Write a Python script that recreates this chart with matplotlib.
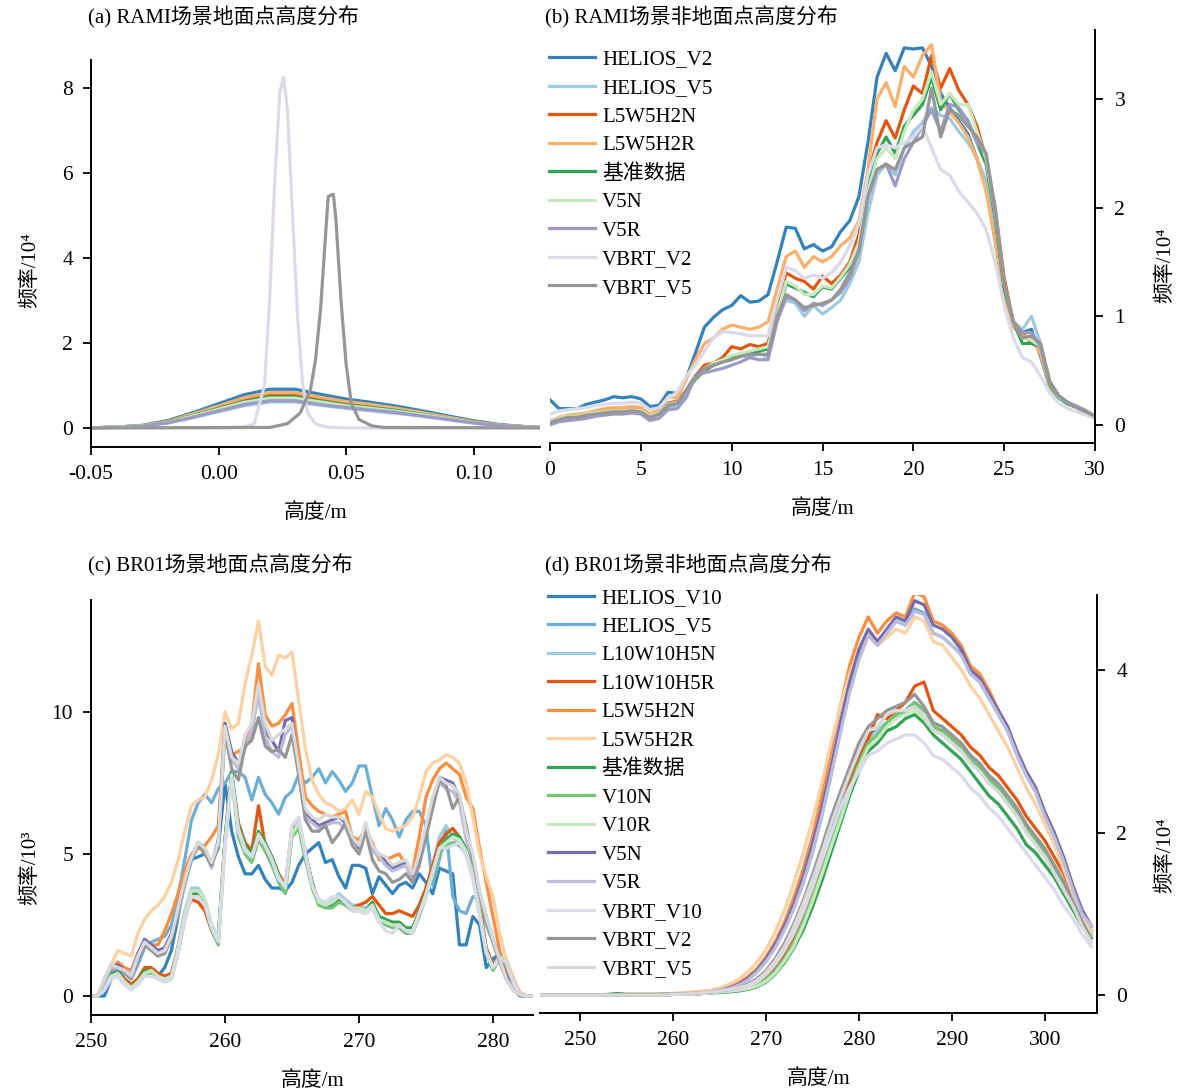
import numpy as np
import matplotlib
matplotlib.use("Agg")
import matplotlib.pyplot as plt

plt.rcParams['font.family'] = ['Liberation Serif', 'Noto Sans CJK SC']
plt.rcParams['font.size'] = 15
plt.rcParams['axes.unicode_minus'] = False

# ---------------- (a) RAMI ground points ----------------
x_a = [-0.05, -0.04, -0.03, -0.02, -0.01, 0.0, 0.01, 0.02, 0.03, 0.04, 0.05, 0.06, 0.07, 0.08, 0.09, 0.10, 0.11, 0.12, 0.126]
a_helios_v2 = [0.0, 0.02, 0.06, 0.17, 0.36, 0.57, 0.78, 0.91, 0.91, 0.79, 0.68, 0.60, 0.51, 0.40, 0.28, 0.17, 0.08, 0.03, 0.01]
a_helios_v5 = [0.0, 0.01, 0.04, 0.11, 0.24, 0.38, 0.52, 0.61, 0.61, 0.53, 0.46, 0.40, 0.34, 0.27, 0.19, 0.11, 0.05, 0.02, 0.01]
a_l5w5h2n = [0.0, 0.02, 0.05, 0.15, 0.31, 0.49, 0.67, 0.78, 0.78, 0.68, 0.58, 0.52, 0.44, 0.34, 0.24, 0.15, 0.07, 0.03, 0.01]
a_l5w5h2r = [0.0, 0.02, 0.05, 0.15, 0.33, 0.52, 0.71, 0.83, 0.83, 0.72, 0.62, 0.55, 0.46, 0.36, 0.25, 0.15, 0.07, 0.03, 0.01]
a_ref = [0.0, 0.02, 0.05, 0.14, 0.29, 0.46, 0.62, 0.73, 0.73, 0.63, 0.54, 0.48, 0.41, 0.32, 0.22, 0.14, 0.06, 0.02, 0.01]
a_v5n = [0.0, 0.02, 0.05, 0.13, 0.28, 0.44, 0.60, 0.70, 0.70, 0.61, 0.52, 0.46, 0.39, 0.31, 0.22, 0.13, 0.06, 0.02, 0.01]
a_v5r = [0.0, 0.01, 0.04, 0.12, 0.25, 0.40, 0.55, 0.64, 0.64, 0.55, 0.48, 0.42, 0.36, 0.28, 0.20, 0.12, 0.06, 0.02, 0.01]
x_a_vbrt_v2 = [-0.05, 0.0, 0.01, 0.014, 0.018, 0.020, 0.022, 0.024, 0.0255, 0.027, 0.029, 0.031, 0.033, 0.035, 0.038, 0.042, 0.05, 0.126]
a_vbrt_v2 = [0, 0, 0.02, 0.1, 1.0, 3.0, 5.8, 7.9, 8.25, 7.5, 5.0, 2.6, 1.0, 0.35, 0.1, 0.02, 0, 0]
x_a_vbrt_v5 = [-0.05, 0.02, 0.027, 0.032, 0.036, 0.038, 0.040, 0.042, 0.043, 0.045, 0.046, 0.048, 0.050, 0.052, 0.055, 0.06, 0.065, 0.126]
a_vbrt_v5 = [0, 0.01, 0.1, 0.35, 0.9, 1.6, 2.8, 4.6, 5.45, 5.5, 4.9, 3.0, 1.5, 0.6, 0.2, 0.05, 0.01, 0]

# ---------------- (b) RAMI non-ground points ----------------
x_b = np.arange(0, 30.01, 0.5)
b_helios_v2 = [0.23, 0.15, 0.15, 0.15, 0.19, 0.21, 0.23, 0.26, 0.25, 0.26,
               0.24, 0.17, 0.18, 0.30, 0.29, 0.43, 0.66, 0.90, 0.99, 1.06,
               1.10, 1.19, 1.13, 1.14, 1.20, 1.50, 1.82, 1.81, 1.62, 1.66,
               1.60, 1.64, 1.78, 1.88, 2.10, 2.60, 3.20, 3.42, 3.26, 3.47,
               3.46, 3.47, 3.30, 3.05, 2.92, 2.80, 2.68, 2.45, 2.20, 1.70,
               1.20, 0.95, 0.85, 0.88, 0.63, 0.35, 0.25, 0.20, 0.17, 0.13, 0.08]
b_helios_v5 = [0.04, 0.06, 0.07, 0.07, 0.08, 0.10, 0.11, 0.12, 0.12, 0.13,
               0.12, 0.06, 0.09, 0.16, 0.18, 0.28, 0.45, 0.50, 0.55, 0.58,
               0.60, 0.64, 0.62, 0.66, 0.62, 1.00, 1.15, 1.12, 1.00, 1.10,
               1.02, 1.08, 1.15, 1.30, 1.50, 1.95, 2.30, 2.40, 2.30, 2.55,
               2.70, 2.78, 2.92, 2.85, 2.82, 2.70, 2.60, 2.45, 2.25, 1.80,
               1.25, 0.95, 0.88, 1.00, 0.75, 0.40, 0.26, 0.20, 0.16, 0.13, 0.08]
b_l5w5h2n = [0.03, 0.06, 0.08, 0.08, 0.10, 0.12, 0.13, 0.14, 0.14, 0.15,
             0.14, 0.08, 0.11, 0.20, 0.22, 0.32, 0.45, 0.55, 0.57, 0.62,
             0.72, 0.70, 0.74, 0.72, 0.75, 1.10, 1.40, 1.35, 1.32, 1.25,
             1.37, 1.30, 1.38, 1.50, 1.75, 2.30, 2.60, 2.80, 2.64, 2.90,
             3.12, 3.05, 3.40, 3.10, 3.28, 3.08, 2.95, 2.75, 2.45, 2.00,
             1.35, 0.95, 0.85, 0.75, 0.72, 0.40, 0.26, 0.20, 0.16, 0.12, 0.08]
b_l5w5h2r = [0.03, 0.07, 0.09, 0.10, 0.11, 0.13, 0.15, 0.16, 0.16, 0.17,
             0.16, 0.10, 0.15, 0.26, 0.25, 0.42, 0.60, 0.75, 0.80, 0.88,
             0.92, 0.90, 0.88, 0.90, 0.95, 1.25, 1.55, 1.60, 1.45, 1.55,
             1.50, 1.55, 1.65, 1.72, 1.88, 2.35, 3.00, 3.15, 2.93, 3.30,
             3.20, 3.40, 3.50, 2.98, 2.88, 2.78, 2.65, 2.45, 2.15, 1.70,
             1.20, 0.90, 0.82, 0.80, 0.65, 0.36, 0.25, 0.20, 0.16, 0.12, 0.08]
b_ref = [0.02, 0.05, 0.07, 0.07, 0.09, 0.10, 0.11, 0.12, 0.12, 0.13,
         0.12, 0.07, 0.10, 0.18, 0.20, 0.30, 0.42, 0.50, 0.55, 0.58,
         0.62, 0.64, 0.66, 0.68, 0.70, 1.00, 1.30, 1.26, 1.22, 1.18,
         1.27, 1.25, 1.35, 1.45, 1.65, 2.20, 2.50, 2.65, 2.50, 2.75,
         2.85, 2.95, 3.20, 2.90, 3.05, 2.90, 2.80, 2.60, 2.40, 1.90,
         1.25, 0.95, 0.75, 0.75, 0.72, 0.38, 0.25, 0.19, 0.16, 0.12, 0.08]
b_v5n = [0.03, 0.06, 0.08, 0.08, 0.10, 0.11, 0.12, 0.13, 0.13, 0.14,
         0.13, 0.08, 0.11, 0.19, 0.21, 0.31, 0.44, 0.52, 0.57, 0.60,
         0.64, 0.66, 0.68, 0.70, 0.72, 1.02, 1.32, 1.28, 1.20, 1.20,
         1.28, 1.26, 1.36, 1.48, 1.68, 2.15, 2.45, 2.55, 2.45, 2.70,
         2.90, 3.00, 3.25, 2.95, 3.05, 2.95, 2.95, 2.70, 2.45, 1.95,
         1.30, 0.95, 0.80, 0.78, 0.72, 0.40, 0.26, 0.20, 0.16, 0.12, 0.08]
b_v5r = [0.00, 0.03, 0.04, 0.05, 0.06, 0.08, 0.09, 0.10, 0.10, 0.11,
         0.10, 0.04, 0.06, 0.14, 0.15, 0.25, 0.45, 0.48, 0.50, 0.52,
         0.55, 0.58, 0.62, 0.60, 0.60, 0.95, 1.18, 1.15, 1.05, 1.12,
         1.10, 1.15, 1.22, 1.35, 1.60, 2.10, 2.35, 2.40, 2.20, 2.45,
         2.60, 2.75, 2.90, 2.70, 2.95, 2.92, 2.80, 2.60, 2.50, 2.00,
         1.30, 0.95, 0.85, 0.85, 0.72, 0.40, 0.27, 0.21, 0.17, 0.13, 0.08]
b_vbrt_v2 = [0.10, 0.13, 0.14, 0.15, 0.16, 0.18, 0.19, 0.20, 0.20, 0.21,
             0.20, 0.14, 0.16, 0.25, 0.30, 0.45, 0.55, 0.68, 0.80, 0.86,
             0.85, 0.84, 0.82, 0.82, 0.82, 1.15, 1.45, 1.42, 1.35, 1.38,
             1.35, 1.40, 1.50, 1.65, 1.85, 2.30, 2.55, 2.58, 2.55, 2.60,
             2.65, 2.75, 2.55, 2.35, 2.30, 2.15, 2.05, 1.95, 1.80, 1.50,
             1.10, 0.80, 0.62, 0.58, 0.45, 0.30, 0.20, 0.15, 0.12, 0.09, 0.06]
b_vbrt_v5 = [0.02, 0.05, 0.07, 0.07, 0.09, 0.10, 0.11, 0.12, 0.12, 0.13,
             0.12, 0.07, 0.10, 0.18, 0.20, 0.32, 0.45, 0.52, 0.55, 0.58,
             0.60, 0.63, 0.65, 0.65, 0.65, 1.00, 1.20, 1.15, 1.08, 1.10,
             1.12, 1.15, 1.25, 1.40, 1.60, 2.10, 2.35, 2.40, 2.35, 2.55,
             2.60, 2.65, 3.10, 2.65, 2.90, 2.85, 2.75, 2.65, 2.50, 1.95,
             1.30, 0.95, 0.80, 0.82, 0.75, 0.40, 0.27, 0.20, 0.16, 0.12, 0.08]

# ---------------- (c) BR01 ground points ----------------
x_c = np.arange(250, 283.01, 0.5)
c_helios_v10 = [0, 0, 0, 0.6, 0.9, 0.6, 0.4, 0.6, 0.8, 0.7,
                0.7, 1.0, 1.6, 2.8, 4.0, 4.8, 4.9, 5.0, 4.7, 5.2,
                7.5, 5.8, 4.9, 4.3, 4.3, 4.6, 4.1, 3.8, 3.8, 3.7,
                4.0, 4.6, 5.0, 5.2, 5.4, 4.7, 4.8, 4.2, 3.8, 4.6,
                4.6, 4.5, 3.6, 4.2, 3.9, 3.6, 3.9, 4.0, 3.8, 4.3,
                4.0, 3.6, 4.5, 4.4, 4.3, 1.8, 1.8, 2.8, 2.5, 1.0,
                1.3, 1.5, 0.8, 0.3, 0, 0, 0]
c_helios_v5 = [0, 0, 0.2, 0.8, 1.0, 0.8, 0.6, 1.1, 1.7, 1.9,
               2.0, 2.1, 2.5, 3.5, 4.8, 6.2, 6.8, 7.1, 6.8, 7.3,
               7.5, 7.9, 7.9, 7.7, 6.9, 7.7, 7.1, 6.8, 6.4, 7.0,
               7.2, 7.8, 7.5, 7.7, 8.0, 7.5, 7.9, 7.6, 7.2, 7.5,
               8.1, 8.1, 7.0, 6.0, 6.6, 6.2, 5.6, 6.2, 6.5, 6.5,
               6.0, 3.9, 4.8, 5.9, 3.5, 3.0, 2.9, 3.5, 3.4, 2.5,
               1.9, 1.5, 0.9, 0.4, 0.05, 0, 0]
c_l10w10h5n = [0, 0, 0.3, 0.7, 0.8, 0.5, 0.3, 0.5, 0.9, 0.9,
               0.7, 0.6, 0.8, 1.8, 3.0, 3.8, 3.8, 3.4, 2.5, 2.1,
               5.6, 7.8, 5.9, 5.1, 4.8, 5.6, 5.2, 4.8, 4.1, 3.8,
               5.9, 6.2, 5.1, 3.9, 3.4, 3.3, 3.4, 3.6, 3.4, 3.2,
               3.2, 3.1, 3.3, 2.8, 2.6, 2.5, 2.5, 2.4, 2.3, 2.9,
               3.7, 4.6, 5.6, 6.0, 5.6, 5.3, 5.0, 4.3, 3.0, 1.6,
               1.0, 1.4, 1.2, 0.5, 0.05, 0, 0]
c_l10w10h5r = [0, 0, 0.3, 0.8, 0.8, 0.6, 0.4, 0.6, 1.0, 1.0,
               0.8, 0.7, 0.8, 1.7, 2.9, 3.4, 3.3, 3.0, 2.3, 2.0,
               5.5, 7.8, 6.1, 5.4, 5.1, 6.7, 5.3, 4.9, 4.3, 3.9,
               5.9, 6.0, 5.0, 4.0, 3.3, 3.2, 3.2, 3.4, 3.2, 3.1,
               3.2, 3.3, 3.5, 3.2, 2.9, 2.9, 3.0, 2.9, 2.8, 3.2,
               3.8, 4.6, 5.4, 5.7, 5.9, 5.6, 5.0, 4.6, 3.2, 1.7,
               1.1, 1.4, 1.2, 0.5, 0.05, 0, 0]
c_l5w5h2n = [0, 0, 0.4, 0.9, 1.2, 1.0, 0.9, 1.5, 1.8, 1.8,
             1.8, 2.3, 2.9, 3.6, 4.4, 5.0, 5.2, 5.3, 5.6, 6.0,
             9.6, 8.5, 8.6, 8.8, 9.6, 11.7, 9.9, 9.5, 9.6, 9.9,
             10.3, 8.6, 7.0, 6.7, 6.5, 6.4, 6.3, 6.4, 6.5, 5.6,
             5.5, 5.9, 5.4, 4.8, 4.8, 4.9, 5.0, 4.6, 4.4, 5.6,
             7.0, 7.6, 8.0, 8.2, 8.0, 7.8, 7.0, 6.6, 5.2, 4.0,
             2.8, 1.6, 0.9, 0.5, 0.1, 0, 0]
c_l5w5h2r = [0, 0, 0.5, 1.1, 1.6, 1.5, 1.4, 2.2, 2.7, 3.0,
             3.2, 3.5, 4.0, 4.8, 5.8, 6.7, 6.9, 7.0, 7.6, 8.5,
             10.0, 9.4, 9.6, 11.0, 12.0, 13.2, 11.6, 11.3, 12.0, 11.9,
             12.1, 10.4, 8.7, 7.6, 7.1, 6.8, 6.7, 6.5, 6.6, 6.9,
             6.4, 7.2, 7.0, 6.4, 5.9, 5.8, 5.9, 6.0, 6.3, 7.0,
             7.9, 8.2, 8.3, 8.5, 8.4, 8.2, 7.5, 6.3, 5.0, 4.2,
             3.5, 2.2, 1.3, 0.7, 0.15, 0, 0]
c_ref = [0, 0, 0.3, 0.8, 0.8, 0.5, 0.3, 0.5, 0.9, 0.9,
         0.7, 0.6, 0.7, 1.6, 2.8, 3.6, 3.6, 3.3, 2.4, 2.0,
         5.5, 7.9, 6.0, 5.3, 5.0, 5.8, 5.4, 4.9, 4.3, 3.7,
         5.8, 6.0, 5.0, 4.0, 3.3, 3.2, 3.2, 3.4, 3.3, 3.1,
         3.1, 3.0, 3.3, 2.8, 2.7, 2.6, 2.6, 2.4, 2.4, 3.0,
         3.6, 4.3, 5.2, 5.5, 5.7, 5.6, 5.2, 4.4, 3.0, 1.6,
         1.0, 1.4, 1.2, 0.5, 0.05, 0, 0]
c_v10n = [0, 0, 0.3, 0.7, 0.7, 0.4, 0.3, 0.4, 0.8, 0.8,
          0.6, 0.5, 0.6, 1.5, 2.7, 3.5, 3.5, 3.2, 2.3, 1.8,
          5.3, 7.7, 5.6, 5.0, 4.7, 5.5, 5.1, 4.6, 4.0, 3.6,
          5.6, 5.9, 4.8, 3.8, 3.2, 3.1, 3.1, 3.3, 3.2, 3.0,
          3.0, 2.9, 3.1, 2.6, 2.5, 2.4, 2.4, 2.2, 2.2, 2.8,
          3.5, 4.2, 5.0, 5.3, 5.4, 5.3, 5.0, 4.2, 2.9, 1.5,
          0.9, 1.3, 1.1, 0.5, 0.05, 0, 0]
c_v10r = [0, 0, 0.3, 0.7, 0.8, 0.5, 0.3, 0.5, 0.8, 0.9,
          0.7, 0.6, 0.7, 1.7, 2.9, 3.7, 3.7, 3.4, 2.5, 2.0,
          5.4, 7.8, 5.9, 5.2, 4.9, 5.7, 5.3, 4.8, 4.2, 3.8,
          5.7, 6.1, 5.0, 3.9, 3.3, 3.2, 3.3, 3.5, 3.3, 3.1,
          3.1, 3.0, 3.2, 2.7, 2.6, 2.5, 2.5, 2.3, 2.3, 2.9,
          3.6, 4.4, 5.2, 5.4, 5.6, 5.5, 5.1, 4.3, 3.0, 1.6,
          1.0, 1.4, 1.2, 0.5, 0.05, 0, 0]
c_v5n = [0, 0, 0.5, 1.0, 1.1, 0.9, 0.8, 1.5, 2.0, 1.8,
         1.6, 1.7, 2.2, 3.0, 4.0, 4.9, 5.4, 5.2, 4.6, 5.5,
         9.6, 8.6, 8.2, 8.8, 9.3, 10.8, 9.3, 9.0, 8.6, 9.7,
         9.8, 8.0, 6.4, 6.2, 6.0, 6.1, 6.2, 6.3, 6.1, 5.5,
         5.1, 6.0, 5.2, 5.0, 4.7, 4.5, 4.6, 4.7, 4.1, 4.8,
         5.8, 6.8, 7.7, 7.6, 7.5, 7.0, 5.6, 4.9, 3.6, 2.8,
         2.0, 1.3, 0.7, 0.3, 0.05, 0, 0]
c_v5r = [0, 0, 0.5, 1.0, 1.0, 0.9, 0.8, 1.4, 1.9, 1.7,
         1.5, 1.6, 2.1, 2.9, 3.9, 4.8, 5.3, 5.1, 4.5, 5.4,
         9.3, 8.3, 8.0, 8.7, 9.4, 10.6, 9.1, 8.6, 8.4, 9.2,
         9.5, 7.8, 6.3, 6.1, 5.9, 6.0, 6.1, 6.1, 5.9, 5.4,
         5.0, 5.8, 5.1, 4.9, 4.6, 4.4, 4.5, 4.6, 4.0, 4.7,
         5.7, 6.7, 7.5, 7.3, 7.2, 6.8, 5.5, 4.8, 3.5, 2.7,
         1.9, 1.2, 0.6, 0.3, 0.05, 0, 0]
c_vbrt_v10 = [0, 0, 0.2, 0.6, 0.7, 0.4, 0.2, 0.4, 0.7, 0.7,
              0.6, 0.5, 0.6, 1.5, 2.7, 3.5, 3.5, 3.2, 2.4, 1.9,
              5.2, 7.6, 5.8, 5.1, 4.9, 5.6, 5.3, 4.8, 4.1, 3.9,
              6.0, 6.3, 5.0, 3.9, 3.4, 3.3, 3.5, 3.5, 3.3, 3.0,
              3.0, 2.9, 3.1, 2.6, 2.3, 2.2, 2.5, 2.3, 2.2, 2.9,
              3.5, 4.3, 5.2, 5.2, 5.3, 5.4, 4.9, 4.1, 2.8, 1.5,
              1.0, 1.3, 1.2, 0.5, 0.05, 0, 0]
c_vbrt_v2 = [0, 0, 0.6, 1.1, 1.0, 0.8, 0.6, 1.3, 1.8, 1.6,
             1.4, 1.5, 2.0, 3.0, 4.0, 4.8, 5.3, 5.0, 4.6, 5.3,
             9.3, 8.0, 7.6, 8.8, 9.0, 9.8, 8.8, 8.6, 8.7, 8.4,
             9.2, 7.8, 6.2, 5.8, 5.8, 6.0, 5.4, 5.7, 6.1, 5.3,
             5.0, 5.8, 4.8, 4.4, 4.3, 4.0, 4.1, 4.3, 4.0, 4.6,
             5.6, 6.6, 7.6, 7.4, 6.6, 7.0, 6.0, 4.8, 3.6, 2.7,
             1.9, 1.2, 0.6, 0.2, 0.05, 0, 0]
c_vbrt_v5 = [0, 0, 0.6, 1.1, 1.0, 0.9, 0.7, 1.4, 1.9, 1.7,
             1.5, 1.6, 2.1, 3.1, 4.1, 4.9, 5.4, 5.2, 4.7, 5.4,
             9.5, 8.4, 8.2, 9.2, 9.6, 11.0, 9.6, 9.0, 9.2, 9.4,
             9.6, 8.1, 6.6, 6.3, 6.2, 6.4, 6.3, 6.3, 6.2, 5.6,
             5.3, 6.1, 5.3, 5.0, 4.9, 4.6, 4.7, 4.8, 4.3, 5.0,
             6.0, 7.0, 7.7, 7.5, 7.4, 7.1, 5.8, 5.0, 3.7, 2.8,
             2.0, 1.3, 0.6, 0.2, 0.05, 0, 0]

# ---------------- (d) BR01 non-ground points ----------------
x_d = np.arange(245, 305.01, 1.0)
d_helios_v10 = [0, 0, 0, 0, 0, 0, 0, 0, 0, 0,
                0, 0, 0, 0, 0, 0.01, 0.01, 0.01, 0.02, 0.03,
                0.04, 0.05, 0.07, 0.1, 0.15, 0.25, 0.38, 0.55, 0.75, 1.0,
                1.3, 1.65, 2.0, 2.35, 2.65, 2.95, 3.2, 3.25, 3.35, 3.4,
                3.5, 3.6, 3.5, 3.3, 3.25, 3.15, 3.05, 2.9, 2.8, 2.65,
                2.55, 2.4, 2.25, 2.05, 1.9, 1.75, 1.55, 1.35, 1.15, 0.9, 0.75]
d_helios_v5 = [0, 0, 0, 0, 0, 0, 0, 0, 0, 0,
               0, 0, 0, 0, 0.01, 0.01, 0.02, 0.02, 0.03, 0.04,
               0.06, 0.08, 0.12, 0.18, 0.28, 0.42, 0.6, 0.82, 1.08, 1.38,
               1.75, 2.2, 2.7, 3.25, 3.75, 4.15, 4.45, 4.3, 4.45, 4.6,
               4.55, 4.75, 4.7, 4.45, 4.4, 4.3, 4.2, 3.95, 3.85, 3.65,
               3.45, 3.25, 2.95, 2.7, 2.5, 2.2, 1.95, 1.65, 1.3, 1.0, 0.85]
d_l10w10h5n = [0, 0, 0, 0, 0, 0, 0, 0, 0, 0,
               0, 0, 0, 0, 0, 0.01, 0.01, 0.01, 0.02, 0.03,
               0.04, 0.05, 0.07, 0.1, 0.15, 0.24, 0.36, 0.52, 0.72, 0.96,
               1.25, 1.6, 1.95, 2.3, 2.6, 2.9, 3.15, 3.25, 3.35, 3.4,
               3.5, 3.55, 3.45, 3.3, 3.25, 3.15, 3.05, 2.9, 2.8, 2.7,
               2.6, 2.45, 2.3, 2.1, 1.95, 1.8, 1.6, 1.4, 1.2, 0.95, 0.8]
d_l10w10h5r = [0, 0, 0, 0, 0, 0, 0, 0, 0, 0,
               0, 0, 0, 0, 0, 0.01, 0.01, 0.01, 0.02, 0.03,
               0.04, 0.05, 0.06, 0.08, 0.12, 0.2, 0.32, 0.48, 0.68, 0.92,
               1.22, 1.55, 1.9, 2.25, 2.6, 2.9, 3.15, 3.45, 3.4, 3.5,
               3.6, 3.8, 3.85, 3.5, 3.4, 3.3, 3.2, 3.05, 2.95, 2.8,
               2.7, 2.55, 2.4, 2.2, 2.05, 1.9, 1.7, 1.5, 1.25, 0.95, 0.75]
d_l5w5h2n = [0, 0, 0, 0, 0, 0, 0, 0, 0, 0.01,
             0.01, 0.01, 0.01, 0.01, 0.01, 0.02, 0.02, 0.03, 0.04, 0.05,
             0.07, 0.1, 0.15, 0.22, 0.32, 0.47, 0.66, 0.9, 1.2, 1.55,
             1.95, 2.45, 3.0, 3.55, 4.05, 4.4, 4.65, 4.45, 4.6, 4.7,
             4.65, 4.95, 4.9, 4.6, 4.55, 4.45, 4.3, 4.05, 3.95, 3.75,
             3.5, 3.3, 3.0, 2.75, 2.55, 2.25, 2.0, 1.7, 1.35, 1.0, 0.8]
d_l5w5h2r = [0, 0, 0, 0, 0, 0, 0, 0, 0, 0.01,
             0.01, 0.01, 0.01, 0.01, 0.02, 0.02, 0.03, 0.04, 0.05, 0.06,
             0.09, 0.13, 0.19, 0.28, 0.4, 0.56, 0.78, 1.05, 1.38, 1.75,
             2.15, 2.6, 3.1, 3.55, 3.95, 4.25, 4.45, 4.3, 4.4, 4.5,
             4.45, 4.65, 4.6, 4.35, 4.3, 4.15, 4.0, 3.8, 3.65, 3.45,
             3.25, 3.05, 2.8, 2.55, 2.35, 2.1, 1.85, 1.55, 1.25, 0.95, 0.8]
d_ref = [0, 0, 0, 0, 0, 0, 0, 0, 0.01, 0.02,
         0.01, 0.01, 0.01, 0.01, 0.01, 0.01, 0.01, 0.02, 0.02, 0.03,
         0.03, 0.04, 0.05, 0.07, 0.1, 0.16, 0.26, 0.4, 0.58, 0.8,
         1.08, 1.4, 1.75, 2.1, 2.45, 2.75, 3.0, 3.1, 3.25, 3.3,
         3.4, 3.45, 3.35, 3.2, 3.1, 3.0, 2.9, 2.75, 2.6, 2.45,
         2.35, 2.2, 2.05, 1.85, 1.75, 1.6, 1.45, 1.25, 1.05, 0.85, 0.7]
d_v10n = [0, 0, 0, 0, 0, 0, 0, 0, 0, 0,
          0, 0, 0, 0, 0, 0.01, 0.01, 0.01, 0.02, 0.03,
          0.04, 0.05, 0.06, 0.08, 0.12, 0.19, 0.3, 0.45, 0.65, 0.9,
          1.2, 1.52, 1.88, 2.22, 2.55, 2.85, 3.1, 3.2, 3.35, 3.45,
          3.5, 3.6, 3.5, 3.3, 3.25, 3.15, 3.05, 2.9, 2.8, 2.65,
          2.55, 2.4, 2.25, 2.05, 1.9, 1.75, 1.55, 1.35, 1.15, 0.9, 0.75]
d_v10r = [0, 0, 0, 0, 0, 0, 0, 0, 0, 0,
          0, 0, 0, 0, 0, 0.01, 0.01, 0.01, 0.02, 0.03,
          0.04, 0.05, 0.06, 0.08, 0.11, 0.17, 0.27, 0.42, 0.6, 0.85,
          1.15, 1.48, 1.82, 2.15, 2.5, 2.8, 3.05, 3.15, 3.3, 3.4,
          3.45, 3.5, 3.4, 3.25, 3.2, 3.1, 3.0, 2.85, 2.75, 2.6,
          2.5, 2.35, 2.2, 2.0, 1.85, 1.7, 1.5, 1.3, 1.1, 0.9, 0.75]
d_v5n = [0, 0, 0, 0, 0, 0, 0, 0, 0, 0,
         0, 0, 0, 0, 0.01, 0.01, 0.02, 0.02, 0.03, 0.04,
         0.06, 0.09, 0.13, 0.2, 0.3, 0.44, 0.62, 0.85, 1.12, 1.45,
         1.85, 2.3, 2.8, 3.35, 3.85, 4.25, 4.5, 4.35, 4.5, 4.65,
         4.6, 4.85, 4.8, 4.55, 4.5, 4.4, 4.25, 4.0, 3.9, 3.7,
         3.5, 3.3, 3.0, 2.75, 2.55, 2.25, 2.0, 1.7, 1.35, 1.05, 0.85]
d_v5r = [0, 0, 0, 0, 0, 0, 0, 0, 0, 0,
         0, 0, 0, 0, 0.01, 0.01, 0.02, 0.02, 0.03, 0.04,
         0.06, 0.08, 0.12, 0.18, 0.28, 0.41, 0.58, 0.8, 1.06, 1.38,
         1.76, 2.2, 2.7, 3.22, 3.72, 4.12, 4.42, 4.3, 4.45, 4.6,
         4.55, 4.72, 4.68, 4.45, 4.4, 4.3, 4.18, 3.95, 3.85, 3.65,
         3.45, 3.25, 2.95, 2.7, 2.5, 2.2, 1.95, 1.65, 1.3, 1.0, 0.85]
d_vbrt_v10 = [0, 0, 0, 0, 0, 0, 0, 0, 0, 0,
              0, 0, 0, 0, 0, 0.01, 0.01, 0.01, 0.02, 0.03,
              0.04, 0.05, 0.07, 0.1, 0.16, 0.25, 0.38, 0.55, 0.76, 1.02,
              1.32, 1.65, 1.98, 2.3, 2.55, 2.75, 2.95, 3.0, 3.1, 3.15,
              3.2, 3.2, 3.1, 2.95, 2.9, 2.8, 2.7, 2.55, 2.45, 2.3,
              2.2, 2.05, 1.9, 1.75, 1.6, 1.45, 1.3, 1.1, 0.95, 0.75, 0.6]
d_vbrt_v2 = [0, 0, 0, 0, 0, 0, 0, 0, 0, 0,
             0, 0, 0, 0, 0, 0.01, 0.01, 0.02, 0.03, 0.04,
             0.05, 0.07, 0.09, 0.13, 0.2, 0.3, 0.45, 0.64, 0.88, 1.16,
             1.48, 1.82, 2.18, 2.5, 2.8, 3.1, 3.3, 3.4, 3.5, 3.55,
             3.6, 3.7, 3.55, 3.35, 3.3, 3.2, 3.1, 2.95, 2.85, 2.7,
             2.6, 2.45, 2.3, 2.1, 1.95, 1.8, 1.6, 1.4, 1.15, 0.9, 0.7]
d_vbrt_v5 = [0, 0, 0, 0, 0, 0, 0, 0, 0, 0,
             0, 0, 0, 0, 0, 0.01, 0.01, 0.02, 0.03, 0.04,
             0.05, 0.07, 0.09, 0.12, 0.18, 0.28, 0.42, 0.6, 0.84, 1.12,
             1.42, 1.75, 2.1, 2.42, 2.72, 3.0, 3.25, 3.3, 3.45, 3.5,
             3.5, 3.55, 3.45, 3.25, 3.2, 3.1, 3.0, 2.85, 2.75, 2.6,
             2.5, 2.35, 2.2, 2.0, 1.85, 1.7, 1.5, 1.3, 1.1, 0.85, 0.65]

# colours (tab20c-like)
C = {
    'dblue': '#3182bd', 'mblue': '#6baed6', 'lblue': '#9ecae1',
    'dorange': '#e6550d', 'morange': '#fd8d3c', 'lorange': '#fdae6b', 'llorange': '#fdd0a2',
    'dgreen': '#31a354', 'mgreen': '#74c476', 'lgreen': '#c7e9c0',
    'dpurple': '#756bb1', 'mpurple': '#9e9ac8', 'lpurple': '#bcbddc', 'llpurple': '#dadaeb',
    'dgray': '#969696', 'lgray': '#d9d9d9',
}
LW = 2.3
FS = 15

fig = plt.figure(figsize=(11.79, 10.9), dpi=100)


def style(ax, side):
    for s in ['top', 'left', 'right']:
        ax.spines[s].set_visible(False)
    ax.spines[side].set_visible(True)
    for s in ['bottom', side]:
        ax.spines[s].set_linewidth(1.4)
    ax.tick_params(direction='out', length=6, width=1.3, labelsize=15.5, pad=7)
    if side == 'right':
        ax.yaxis.tick_right()
        ax.tick_params(axis='y', pad=8)


# (a)
ax_a = fig.add_axes([0.0772, 0.5899, 0.3808, 0.355])
series_a = [
    (x_a, a_helios_v2, 'HELIOS_V2', C['dblue']),
    (x_a, a_helios_v5, 'HELIOS_V5', C['lblue']),
    (x_a, a_l5w5h2n, 'L5W5H2N', C['dorange']),
    (x_a, a_l5w5h2r, 'L5W5H2R', C['lorange']),
    (x_a, a_ref, '基准数据', C['dgreen']),
    (x_a, a_v5n, 'V5N', C['lgreen']),
    (x_a, a_v5r, 'V5R', C['mpurple']),
    (x_a_vbrt_v2, a_vbrt_v2, 'VBRT_V2', C['llpurple']),
    (x_a_vbrt_v5, a_vbrt_v5, 'VBRT_V5', C['dgray']),
]
for xs, ys, lab, col in series_a:
    ax_a.plot(xs, ys, color=col, lw=LW, label=lab)
ax_a.set_xlim(-0.05, 0.126)
ax_a.set_ylim(-0.45, 8.66)
ax_a.set_xticks([-0.05, 0.0, 0.05, 0.10])
ax_a.set_xticklabels(['-0.05', '0.00', '0.05', '0.10'])
ax_a.set_yticks([0, 2, 4, 6, 8])
style(ax_a, 'left')

# (b)
ax_b = fig.add_axes([0.4665, 0.5936, 0.4623, 0.3789])
series_b = [
    (b_helios_v2, 'HELIOS_V2', C['dblue']),
    (b_helios_v5, 'HELIOS_V5', C['lblue']),
    (b_l5w5h2n, 'L5W5H2N', C['dorange']),
    (b_l5w5h2r, 'L5W5H2R', C['lorange']),
    (b_ref, '基准数据', C['dgreen']),
    (b_v5n, 'V5N', C['lgreen']),
    (b_v5r, 'V5R', C['mpurple']),
    (b_vbrt_v2, 'VBRT_V2', C['llpurple']),
    (b_vbrt_v5, 'VBRT_V5', C['dgray']),
]
for ys, lab, col in series_b:
    ax_b.plot(x_b, ys, color=col, lw=LW, label=lab)
ax_b.set_xlim(0, 30)
ax_b.set_ylim(-0.166, 3.635)
ax_b.set_xticks([0, 5, 10, 15, 20, 25, 30])
ax_b.set_yticks([0, 1, 2, 3])
style(ax_b, 'right')
ax_b.legend(loc='upper left', bbox_to_anchor=(-0.017, 0.972), frameon=False,
            fontsize=FS, handlelength=2.2, handletextpad=0.35, labelspacing=0.43,
            borderaxespad=0)

# (c) and (d) share the same series list
names_cd = ['HELIOS_V10', 'HELIOS_V5', 'L10W10H5N', 'L10W10H5R', 'L5W5H2N', 'L5W5H2R',
            '基准数据', 'V10N', 'V10R', 'V5N', 'V5R', 'VBRT_V10', 'VBRT_V2', 'VBRT_V5']
colors_cd = [C['dblue'], C['mblue'], C['lblue'], C['dorange'], C['morange'], C['llorange'],
             C['dgreen'], C['mgreen'], C['lgreen'], C['dpurple'], C['lpurple'], C['llpurple'],
             C['dgray'], C['lgray']]
data_c = [c_helios_v10, c_helios_v5, c_l10w10h5n, c_l10w10h5r, c_l5w5h2n, c_l5w5h2r,
          c_ref, c_v10n, c_v10r, c_v5n, c_v5r, c_vbrt_v10, c_vbrt_v2, c_vbrt_v5]
data_d = [d_helios_v10, d_helios_v5, d_l10w10h5n, d_l10w10h5r, d_l5w5h2n, d_l5w5h2r,
          d_ref, d_v10n, d_v10r, d_v5n, d_v5r, d_vbrt_v10, d_vbrt_v2, d_vbrt_v5]

ax_c = fig.add_axes([0.0772, 0.0688, 0.375, 0.3807])
for ys, lab, col in zip(data_c, names_cd, colors_cd):
    ax_c.plot(x_c, ys, color=col, lw=LW, label=lab)
ax_c.set_xlim(250, 283)
ax_c.set_ylim(-0.67, 13.94)
ax_c.set_xticks([250, 260, 270, 280])
ax_c.set_yticks([0, 5, 10])
style(ax_c, 'left')

ax_d = fig.add_axes([0.458, 0.0706, 0.4724, 0.3835])
for ys, lab, col in zip(data_d, names_cd, colors_cd):
    ax_d.plot(x_d, ys, color=col, lw=LW, label=lab)
ax_d.set_xlim(245.7, 305.6)
ax_d.set_ylim(-0.22, 4.92)
ax_d.set_xticks([250, 260, 270, 280, 290, 300])
ax_d.set_yticks([0, 2, 4])
style(ax_d, 'right')
ax_d.legend(loc='upper left', bbox_to_anchor=(0.0, 1.036), frameon=False,
            fontsize=FS, handlelength=2.2, handletextpad=0.35, labelspacing=0.43,
            borderaxespad=0)

# axis labels and titles
fig.text(30 / 1179, 1 - 270 / 1090, '频率/10⁴', fontsize=FS, rotation=90, ha='center', va='center')
fig.text(1165 / 1179, 1 - 265 / 1090, '频率/10⁴', fontsize=FS, rotation=90, ha='center', va='center')
fig.text(30 / 1179, 1 - 868 / 1090, '频率/10³', fontsize=FS, rotation=90, ha='center', va='center')
fig.text(1165 / 1179, 1 - 855 / 1090, '频率/10⁴', fontsize=FS, rotation=90, ha='center', va='center')
for ax in [ax_a, ax_b, ax_c, ax_d]:
    ax.set_xlabel('高度/m', fontsize=FS, labelpad=14)

fig.text(0.075, 0.984, '(a) RAMI场景地面点高度分布', fontsize=FS, va='center', ha='left')
fig.text(0.462, 0.984, '(b) RAMI场景非地面点高度分布', fontsize=FS, va='center', ha='left')
fig.text(0.075, 0.481, '(c) BR01场景地面点高度分布', fontsize=FS, va='center', ha='left')
fig.text(0.462, 0.481, '(d) BR01场景非地面点高度分布', fontsize=FS, va='center', ha='left')

fig.savefig('out.png', dpi=100)
